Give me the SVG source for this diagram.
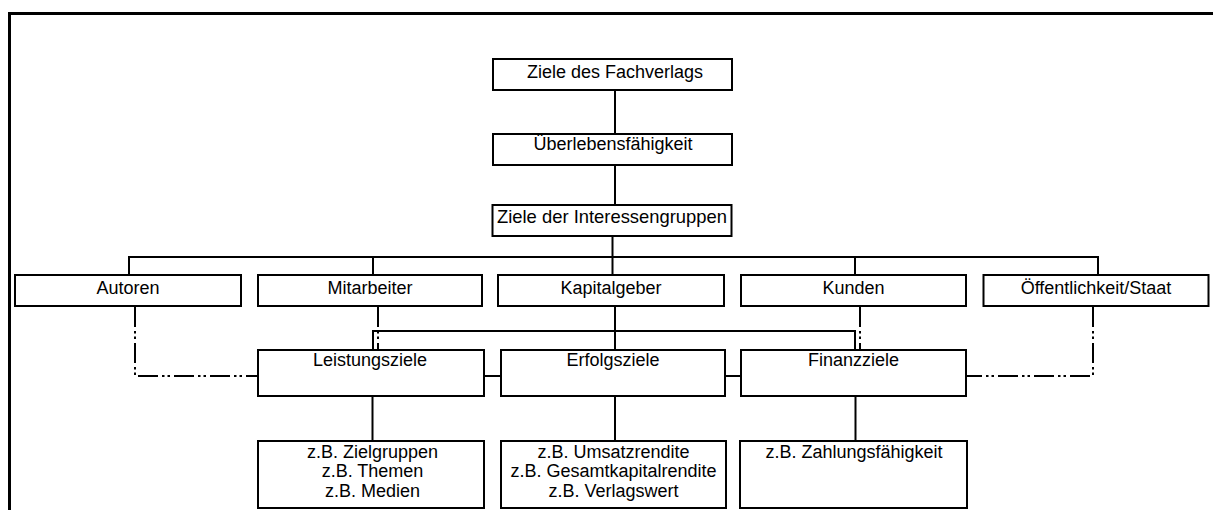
<svg xmlns="http://www.w3.org/2000/svg" width="1213" height="510" viewBox="0 0 1213 510">
<style>
.box{fill:#fff;stroke:#000;stroke-width:2}
.t{font-family:"Liberation Sans",Arial,sans-serif;font-size:18px;fill:#000;text-anchor:middle}
.ln{fill:none;stroke:#000;stroke-width:2}
.dd{fill:none;stroke:#000;stroke-width:2;stroke-dasharray:20 4 2.5 3 2.5 4}
</style>
<rect width="1213" height="510" fill="#fff"/>
<path d="M9.5,510 V13.5 H1213" fill="none" stroke="#000" stroke-width="3"/>
<g id="connectors">
<path class="ln" d="M615,91 V134"/>
<path class="ln" d="M615,165 V205"/>
<path class="ln" d="M612.5,236 V275"/>
<path class="ln" d="M129,275 V257 H1098 V275"/>
<path class="ln" d="M373,257 V275"/>
<path class="ln" d="M855,257 V275"/>
<path class="ln" d="M615,307 V350"/>
<path class="ln" d="M373,350 V331 H855 V350"/>
<path class="ln" d="M484,376 H500"/>
<path class="ln" d="M725,376 H740"/>
<path class="ln" d="M372.5,397 V440"/>
<path class="ln" d="M615,397 V440"/>
<path class="ln" d="M855.5,397 V440"/>
<path class="dd" d="M135,307 V376 H257"/>
<path class="dd" d="M1093,307 V376 H967"/>
<path class="dd" d="M378,307 V350"/>
<path class="dd" d="M860,307 V350"/>
</g>
<g id="n-fachverlag"><rect class="box" x="493" y="59" width="239" height="31"/><text class="t" x="615" y="78">Ziele des Fachverlags</text></g>
<g id="n-ueberleben"><rect class="box" x="493" y="134" width="239" height="31"/><text class="t" x="613" y="150">Überlebensfähigkeit</text></g>
<g id="n-interessen"><rect class="box" x="492.5" y="205" width="239" height="31"/><text class="t" x="612" y="223" style="font-size:18.4px">Ziele der Interessengruppen</text></g>
<g id="n-autoren"><rect class="box" x="15" y="275" width="226" height="31"/><text class="t" x="128" y="294">Autoren</text></g>
<g id="n-mitarbeiter"><rect class="box" x="258" y="275" width="224" height="31"/><text class="t" x="370" y="294">Mitarbeiter</text></g>
<g id="n-kapitalgeber"><rect class="box" x="498" y="275" width="226" height="31"/><text class="t" x="611" y="294">Kapitalgeber</text></g>
<g id="n-kunden"><rect class="box" x="741" y="275" width="225" height="31"/><text class="t" x="853.5" y="294">Kunden</text></g>
<g id="n-oeffentlichkeit"><rect class="box" x="983.5" y="275" width="225" height="31"/><text class="t" x="1096" y="294">Öffentlichkeit/Staat</text></g>
<g id="n-leistungsziele"><rect class="box" x="258" y="350" width="226" height="46"/><text class="t" x="370" y="366">Leistungsziele</text></g>
<g id="n-erfolgsziele"><rect class="box" x="501" y="350" width="224" height="46"/><text class="t" x="613" y="366">Erfolgsziele</text></g>
<g id="n-finanzziele"><rect class="box" x="741" y="350" width="225" height="46"/><text class="t" x="853.5" y="366">Finanzziele</text></g>
<g id="n-leistung-bsp"><rect class="box" x="258" y="441" width="226" height="67"/><text class="t" x="372.5" y="458">z.B. Zielgruppen</text><text class="t" x="372.5" y="477">z.B. Themen</text><text class="t" x="372.5" y="497">z.B. Medien</text></g>
<g id="n-erfolg-bsp"><rect class="box" x="501" y="441" width="225" height="67"/><text class="t" x="613.5" y="458">z.B. Umsatzrendite</text><text class="t" x="613.5" y="477">z.B. Gesamtkapitalrendite</text><text class="t" x="613.5" y="497">z.B. Verlagswert</text></g>
<g id="n-finanz-bsp"><rect class="box" x="740" y="441" width="227" height="67"/><text class="t" x="854" y="458">z.B. Zahlungsfähigkeit</text></g>
</svg>
